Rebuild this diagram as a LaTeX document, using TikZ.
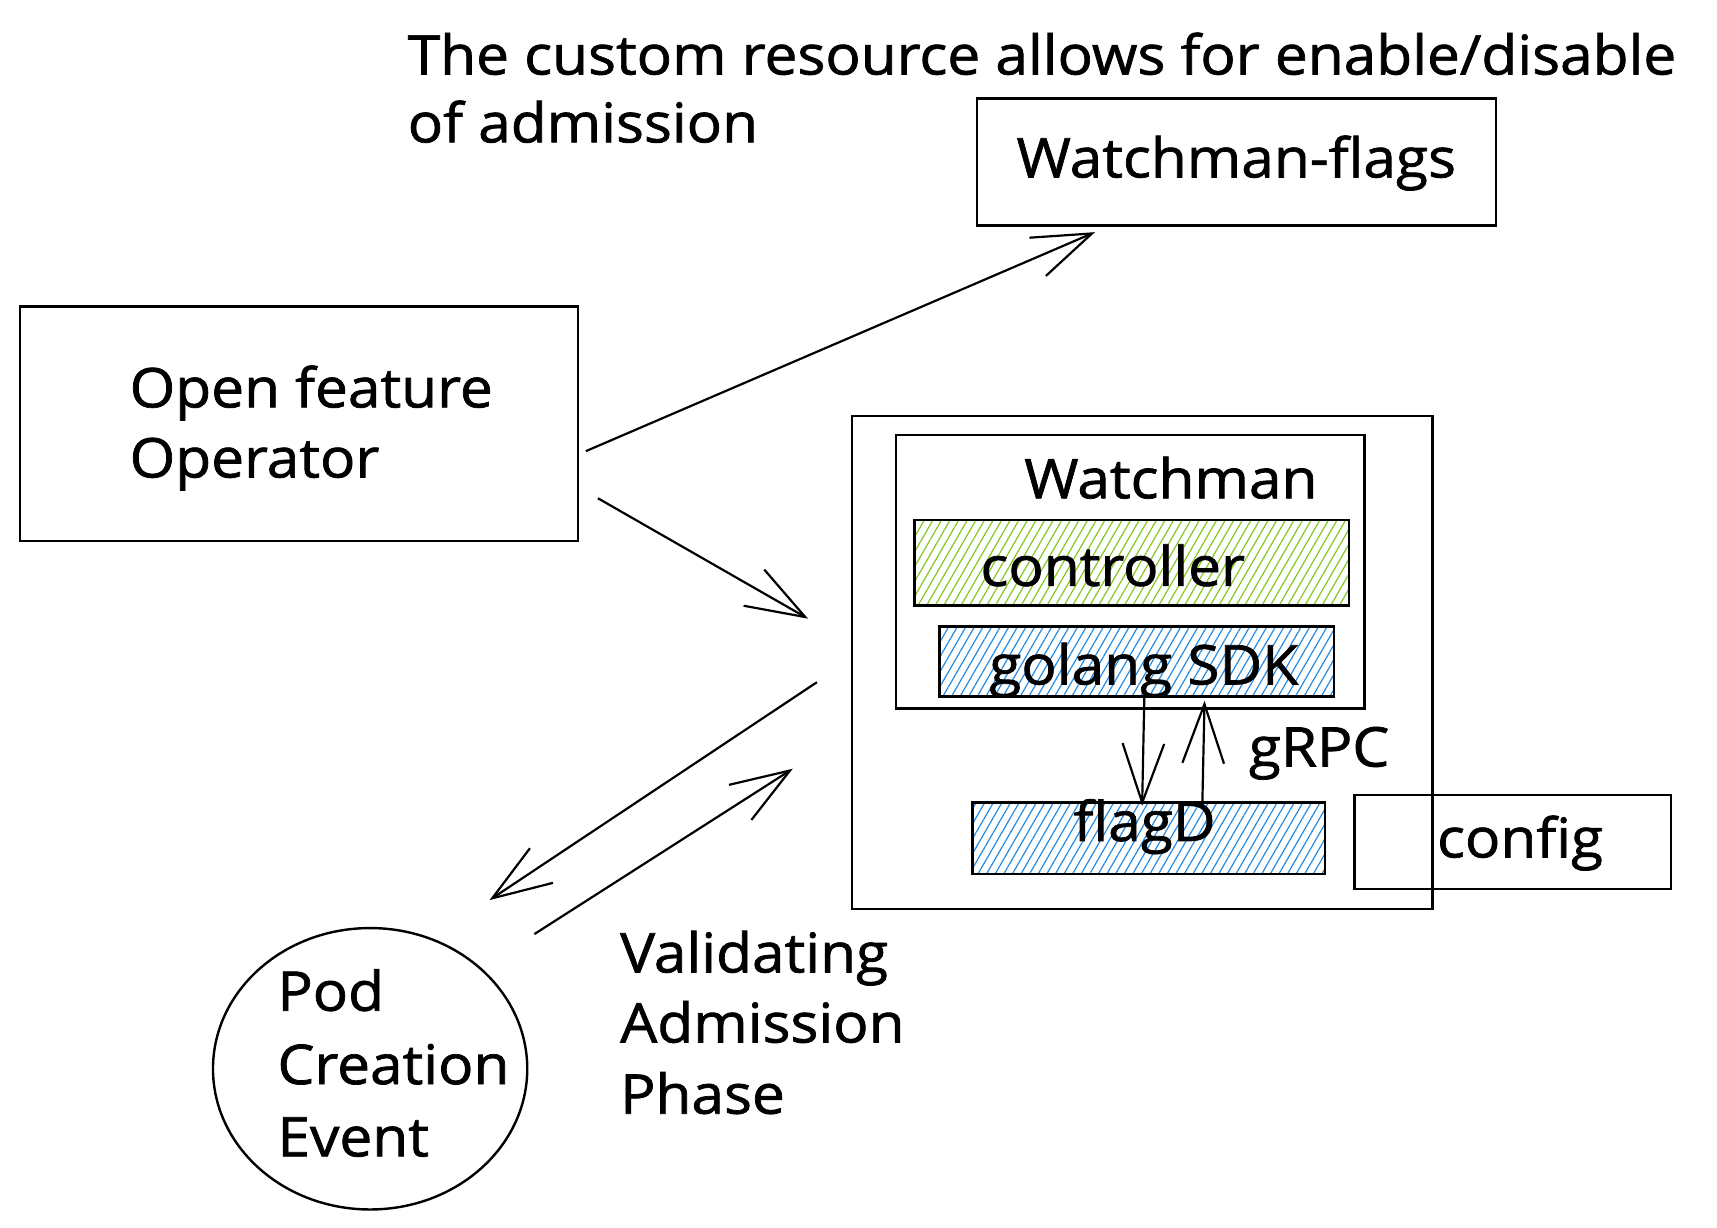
\documentclass[tikz,border=0pt]{standalone}
\usepackage{fontspec}
\setmainfont[FakeStretch=1.07,FakeBold=1.3]{Open Sans}
\usetikzlibrary{arrows.meta,patterns.meta,shapes.geometric}
\definecolor{hgreen}{HTML}{82C91E}
\definecolor{hblue}{HTML}{228BE6}
\begin{document}
\begin{tikzpicture}[x=0.5pt,y=-0.5pt,
  box/.style={draw, line width=1.1pt, inner sep=0pt, rectangle},
  lbl/.style={font=\fontsize{25}{30}\selectfont, inner sep=0pt, anchor=base west},
  arr/.style={line width=1pt, -{Straight Barb[length=27pt,width=19pt,line width=1pt]}},
  hatch/.style={pattern={Lines[angle=60,distance=3.4pt,line width=0.55pt]}, pattern color=#1}
]
\useasboundingbox (0,0) rectangle (1568,1121);

% boxes
\node[box, minimum width=237pt, minimum height=58pt] (wf) at (1129,148) {};
\node[box, minimum width=255pt, minimum height=107pt] (op) at (273,387) {};
\node[box, minimum width=265pt, minimum height=225pt] (outer) at (1043,605) {};
\node[box, minimum width=214pt, minimum height=125pt] (inner) at (1032,522) {};
\node[box, hatch=hgreen, minimum width=198.5pt, minimum height=39pt] (ctrl) at (1033.5,514) {};
\node[box, hatch=hblue, minimum width=180pt, minimum height=32pt] (sdk) at (1038,604) {};
\node[box, hatch=hblue, minimum width=161pt, minimum height=32.5pt] (flagd) at (1049,765.5) {};
\node[box, minimum width=144.5pt, minimum height=43pt] (config) at (1381.5,769) {};
\node[draw, line width=1.1pt, ellipse, minimum width=143.5pt, minimum height=128.5pt, inner sep=0pt] (pod) at (338,976) {};

% texts
\node[lbl] (t1) at (372,68) {The custom resource allows for enable/disable};
\node[lbl] (t2) at (372,130) {of admission};
\node[lbl] (twf) at (928,162) {Watchman-flags};
\node[lbl] (top1) at (118,372) {Open feature};
\node[lbl] (top2) at (118,436) {Operator};
\node[lbl] (twm) at (935,455) {Watchman};
\node[lbl] (tctrl) at (895,535) {controller};
\node[lbl] (tsdk) at (903,625) {golang SDK};
\node[lbl] (tfd) at (980,768) {flagD};
\node[lbl] (tcfg) at (1312,783) {config};
\node[lbl] (tgrpc) at (1140,700) {gRPC};
\node[lbl] (tp1) at (253,923) {Pod};
\node[lbl] (tp2) at (253,990) {Creation};
\node[lbl] (tp3) at (253,1056) {Event};
\node[lbl] (tv1) at (566,888) {Validating};
\node[lbl] (tv2) at (566,952) {Admission};
\node[lbl] (tv3) at (566,1017) {Phase};

% connector endpoints
\coordinate (a1s) at (535,412);
\coordinate (a1e) at (1000,212);
\coordinate (a2s) at (546,455);
\coordinate (a2e) at (738,565);
\coordinate (a3s) at (746,623);
\coordinate (a3e) at (447,822);
\coordinate (a4s) at (488,853);
\coordinate (a4e) at (724,702);
\coordinate (g1s) at (1045,637);
\coordinate (g1e) at (1043,736);
\coordinate (g2s) at (1098,734);
\coordinate (g2e) at (1100,640);

\draw[arr] (a1s) -- (a1e);
\draw[arr] (a2s) -- (a2e);
\draw[arr] (a3s) -- (a3e);
\draw[arr] (a4s) -- (a4e);
\draw[arr] (g1s) -- (g1e);
\draw[arr] (g2s) -- (g2e);
\end{tikzpicture}
\end{document}
